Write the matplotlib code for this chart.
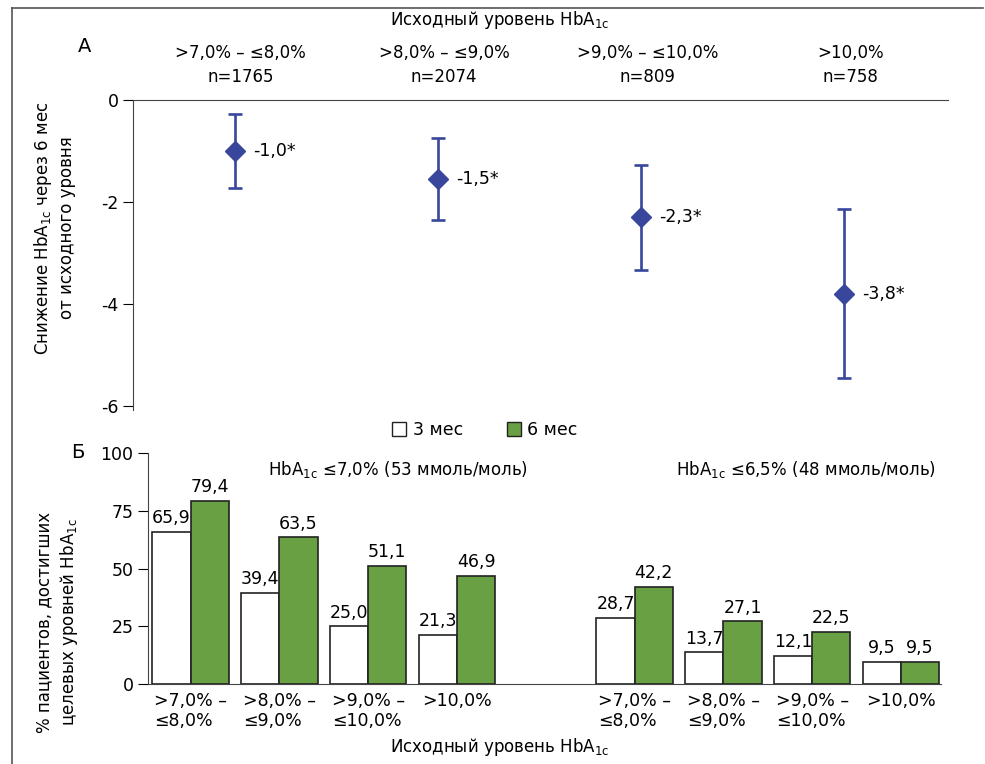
import numpy as np
import matplotlib
matplotlib.use("Agg")
import matplotlib.pyplot as plt
from matplotlib.lines import Line2D
from matplotlib.patches import Patch

plt.rcParams['font.family'] = ['DejaVu Sans']
plt.rcParams['font.size'] = 12

W, H = 985, 764
BLUE = '#38479b'
GREEN = '#69a043'

# panel A
groups_a = ['>7,0% – ≤8,0%\nn=1765', '>8,0% – ≤9,0%\nn=2074',
            '>9,0% – ≤10,0%\nn=809', '>10,0%\nn=758']
mean_change = [-1.0, -1.55, -2.3, -3.8]
err_low = [0.73, 0.8, 1.03, 1.66]
err_high = [0.73, 0.8, 1.03, 1.66]
mean_labels = ['-1,0*', '-1,5*', '-2,3*', '-3,8*']

# panel B
bar_cats = ['>7,0% –\n≤8,0%', '>8,0% –\n≤9,0%', '>9,0% –\n≤10,0%', '>10,0%']
t70_3m = [65.9, 39.4, 25.0, 21.3]
t70_6m = [79.4, 63.5, 51.1, 46.9]
t65_3m = [28.7, 13.7, 12.1, 9.5]
t65_6m = [42.2, 27.1, 22.5, 9.5]


def px(x, y):
    return x / W, 1 - y / H


def fmt(v):
    return ('%.1f' % v).replace('.', ',')


fig = plt.figure(figsize=(W / 100, H / 100), dpi=100)

# frame lines
fig.add_artist(Line2D([12 / W, 12 / W], [0, 1 - 8 / H], color='#555555', lw=1.2))
fig.add_artist(Line2D([12 / W, 983 / W], [1 - 8 / H, 1 - 8 / H], color='#555555', lw=1.2))

# ---- A ----
ax1 = fig.add_axes([133 / W, 1 - 410 / H, 815 / W, 310 / H])
x = np.arange(len(mean_change))
ax1.errorbar(x, mean_change, yerr=[err_low, err_high], fmt='D', color=BLUE,
             ms=10.5, elinewidth=1.9, capsize=4.8, capthick=1.9)
for xi, m, lab in zip(x, mean_change, mean_labels):
    ax1.annotate(lab, (xi, m), xytext=(13, 0), textcoords='offset points',
                 va='center', ha='left', fontsize=12.5)
ax1.set_xlim(-0.5, 3.51)
ax1.set_ylim(-6.08, 0)
ax1.set_yticks([0, -2, -4, -6])
ax1.set_yticklabels(['0', '-2', '-4', '-6'])
ax1.set_xticks([])
ax1.spines['right'].set_visible(False)
ax1.spines['bottom'].set_visible(False)
ax1.tick_params(axis='y', direction='out', length=7, labelsize=12.5)
for sp in ['left', 'top']:
    ax1.spines[sp].set_color('#444444')
for xi, g in zip(x, groups_a):
    ax1.text(xi + 0.03, 1 + 35 / 310, g, transform=ax1.get_xaxis_transform(),
             ha='center', va='center', fontsize=12, linespacing=1.45)

fig.text(*px(500, 20), 'Исходный уровень HbA$_\\mathregular{1c}$', ha='center', va='center', fontsize=12)
fig.text(*px(85, 46), 'A', ha='center', va='center', fontsize=14)
fig.text(*px(54, 228), 'Снижение HbA$_\\mathregular{1c}$ через 6 мес\nот исходного уровня',
         rotation=90, ha='center', va='center', fontsize=12, linespacing=1.3)

# ---- Б ----
ax2 = fig.add_axes([148 / W, 1 - 684 / H, 793 / W, 231 / H])
pos1 = np.arange(4)
pos2 = np.arange(4) + 5
bw = 0.43
for pos, v3, v6 in [(pos1, t70_3m, t70_6m), (pos2, t65_3m, t65_6m)]:
    ax2.bar(pos - bw / 2, v3, bw, color='white', edgecolor='#222222', lw=1.2)
    ax2.bar(pos + bw / 2, v6, bw, color=GREEN, edgecolor='#222222', lw=1.2)
    for p, a, b in zip(pos, v3, v6):
        ax2.text(p - bw / 2, a + 2, fmt(a), ha='center', va='bottom', fontsize=12.5)
        ax2.text(p + bw / 2, b + 2, fmt(b), ha='center', va='bottom', fontsize=12.5)
ax2.set_xlim(-0.48, 8.45)
ax2.set_ylim(0, 100)
ax2.set_yticks([0, 25, 50, 75, 100])
ax2.set_xticks(list(pos1) + list(pos2))
ax2.set_xticklabels(bar_cats * 2, multialignment='left', fontsize=12.5, linespacing=1.1)
ax2.tick_params(axis='x', length=0, pad=6)
ax2.tick_params(axis='y', direction='out', length=7, labelsize=12.5)
ax2.spines['right'].set_visible(False)
ax2.spines['top'].set_visible(False)
for sp in ['left', 'bottom']:
    ax2.spines[sp].set_color('#444444')

fig.text(*px(398, 470), 'HbA$_\\mathregular{1c}$ ≤7,0% (53 ммоль/моль)', ha='center', va='center', fontsize=12)
fig.text(*px(806, 470), 'HbA$_\\mathregular{1c}$ ≤6,5% (48 ммоль/моль)', ha='center', va='center', fontsize=12)
fig.text(*px(500, 747), 'Исходный уровень HbA$_\\mathregular{1c}$', ha='center', va='center', fontsize=12)
fig.text(*px(78, 453), 'Б', ha='center', va='center', fontsize=14)
fig.text(*px(58, 622), '% пациентов, достигших\nцелевых уровней HbA$_\\mathregular{1c}$',
         rotation=90, ha='center', va='center', fontsize=12, linespacing=1.3)

handles = [Patch(facecolor='white', edgecolor='#222222', lw=1.0, label='3 мес'),
           Patch(facecolor=GREEN, edgecolor='#222222', lw=1.0, label='6 мес')]
fig.legend(handles=handles, loc='center', bbox_to_anchor=px(485, 430), ncol=2,
           frameon=False, fontsize=12.5, handlelength=0.8, handleheight=0.8,
           handletextpad=0.4, columnspacing=2.5)

fig.savefig('out.png', dpi=100)
